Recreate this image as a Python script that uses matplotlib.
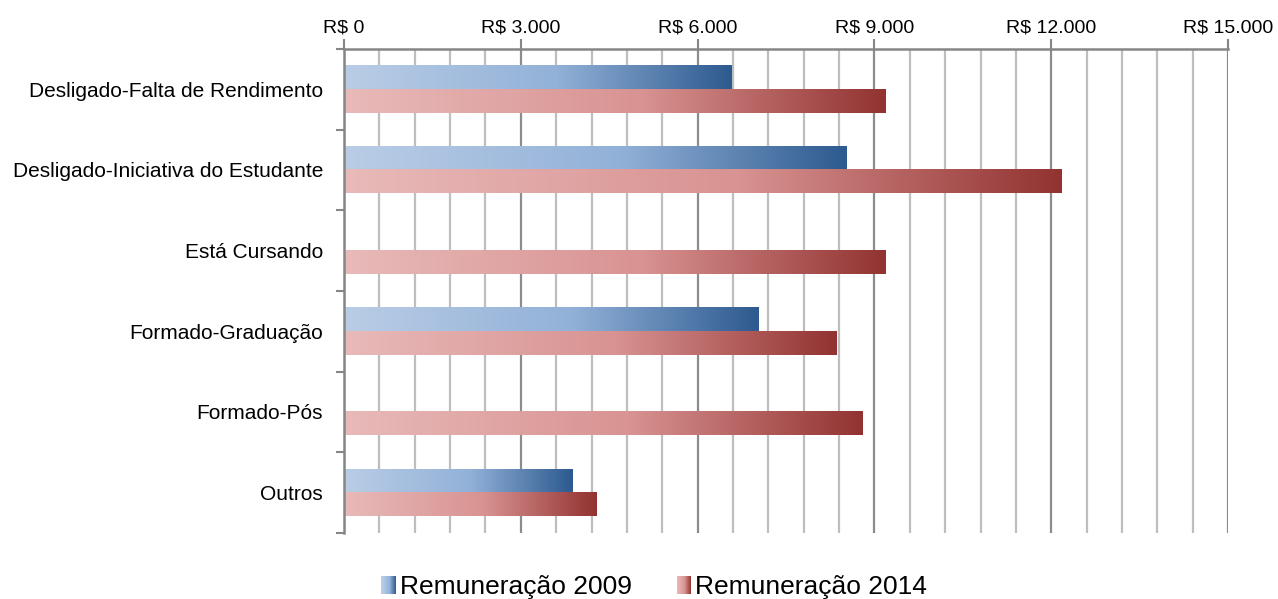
import numpy as np
import matplotlib
matplotlib.use("Agg")
import matplotlib.pyplot as plt
from matplotlib.colors import LinearSegmentedColormap
from matplotlib.patches import Rectangle
from matplotlib.legend_handler import HandlerBase
from matplotlib.ticker import MultipleLocator, FuncFormatter

plt.rcParams['font.family'] = ['Liberation Sans', 'DejaVu Sans']

categories = ["Desligado-Falta de Rendimento", "Desligado-Iniciativa do Estudante",
              "Está Cursando", "Formado-Graduação", "Formado-Pós", "Outros"]
rem_2009 = [6580, 8520, None, 7040, None, 3870]
rem_2014 = [9190, 12180, 9190, 8350, 8800, 4290]
series_names = ["Remuneração 2009", "Remuneração 2014"]

blue_cmap = LinearSegmentedColormap.from_list(
    "blue", [(0, "#BACDE6"), (0.55, "#92B1D8"), (1, "#2D5A8F")])
red_cmap = LinearSegmentedColormap.from_list(
    "red", [(0, "#E8BAB9"), (0.55, "#D89392"), (1, "#923331")])


class GradHandler(HandlerBase):
    def __init__(self, cmap):
        super().__init__()
        self.cmap = cmap

    def create_artists(self, legend, orig_handle, xdescent, ydescent,
                       width, height, fontsize, trans):
        n = 14
        arts = []
        for i in range(n):
            arts.append(Rectangle((-xdescent + i * width / n, -ydescent),
                                  width / n * 1.1, height,
                                  facecolor=self.cmap((i + 0.5) / n),
                                  edgecolor='none', transform=trans))
        return arts


fig = plt.figure(figsize=(12.78, 5.99), dpi=100)
ax = fig.add_axes([0.2692, 0.1102, 0.6917, 0.808])

y = np.arange(len(categories))
h = 0.29
v09 = np.array([np.nan if v is None else v for v in rem_2009], dtype=float)
v14 = np.array(rem_2014, dtype=float)

bars09 = ax.barh(y - h / 2, np.nan_to_num(v09), height=h, color='none', zorder=2)
bars14 = ax.barh(y + h / 2, v14, height=h, color='none', zorder=2)

grad = np.linspace(0, 1, 256).reshape(1, -1)
for bars, cmap in ((bars09, blue_cmap), (bars14, red_cmap)):
    for p in bars.patches:
        w = p.get_width()
        if w <= 0:
            continue
        x0, y0, hh = p.get_x(), p.get_y(), p.get_height()
        ax.imshow(grad, cmap=cmap, extent=[x0, x0 + w, y0 + hh, y0],
                  aspect='auto', interpolation='bilinear', zorder=2)

ax.set_xlim(0, 15000)
ax.set_ylim(len(categories) - 0.5, -0.5)

ax.xaxis.tick_top()
ax.xaxis.set_major_locator(MultipleLocator(3000))
ax.xaxis.set_minor_locator(MultipleLocator(600))
ax.xaxis.set_major_formatter(FuncFormatter(lambda v, p: "R$ " + f"{int(v):,}".replace(",", ".")))
ax.tick_params(axis='x', which='major', length=7, width=1.5, color='#868686',
               labelsize=14, pad=2)
ax.tick_params(axis='x', which='minor', length=0)
ax.grid(axis='x', which='minor', color='#BEBEBE', linewidth=1.6, zorder=0)
ax.grid(axis='x', which='major', color='#8C8C8C', linewidth=1.6, zorder=0)
ax.set_axisbelow(True)

ax.set_yticks(y)
ax.set_yticklabels(categories)
ax.set_yticks(np.arange(-0.5, len(categories)), minor=True)
ax.tick_params(axis='y', which='major', length=0, labelsize=15, pad=15)
ax.tick_params(axis='y', which='minor', length=6, width=1.5, color='#868686')

for s in ('right', 'bottom'):
    ax.spines[s].set_visible(False)
for s in ('top', 'left'):
    ax.spines[s].set_color('#868686')
    ax.spines[s].set_linewidth(1.8)

leg = fig.legend([bars09, bars14], series_names,
                 handler_map={bars09: GradHandler(blue_cmap), bars14: GradHandler(red_cmap)},
                 loc='lower center', bbox_to_anchor=(0.512, -0.04), ncol=2, frameon=False,
                 fontsize=19, handlelength=0.55, handleheight=0.7,
                 handletextpad=0.15, columnspacing=1.7)

fig.savefig("out.png", dpi=100)
